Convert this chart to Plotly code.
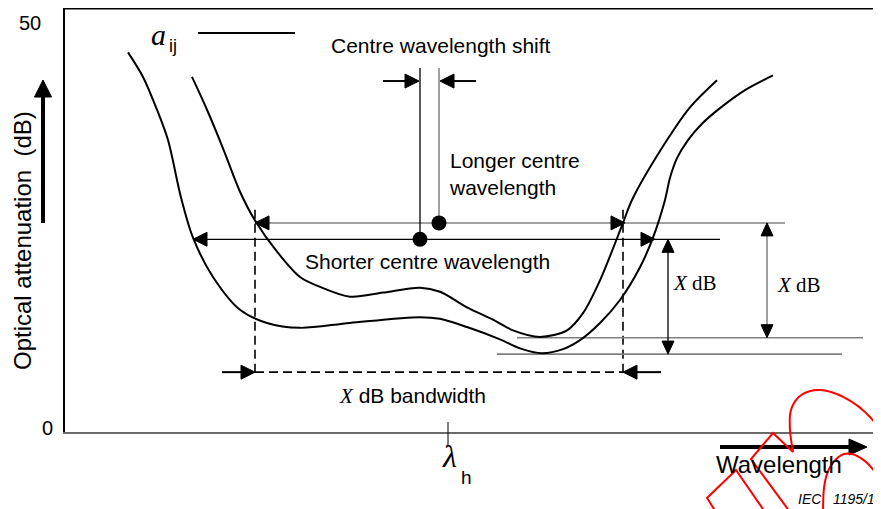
import plotly.graph_objects as go

# ---------------- data (wavelength in arbitrary units, attenuation in dB) ----------------
wl_a = [63, 78, 92, 103, 116, 128, 148, 175, 202, 235, 285, 355, 375, 402, 435, 455, 477,
        498, 515, 535, 555, 575, 588, 600, 605, 612, 623, 637, 655, 680, 708]
att_a = [46.3, 43.3, 39.3, 35.6, 28.6, 23.7, 18.9, 14.9, 13.3, 12.7, 13.3, 14.0, 13.8, 12.8,
         11.3, 10.2, 9.6, 10.1, 11.2, 13.3, 16.1, 20.1, 23.7, 28.3, 31.0, 33.4, 35.6, 37.6,
         39.5, 41.7, 43.5]

wl_b = [127, 142, 158, 175, 190, 212, 235, 255, 285, 318, 355, 375, 402, 428, 448, 475,
        502, 518, 535, 558, 567, 602, 625, 652]
att_b = [43.3, 39.3, 34.6, 29.3, 25.8, 22.0, 18.9, 17.7, 16.5, 17.0, 17.6, 17.1, 15.2, 13.7,
         12.4, 11.6, 12.4, 14.5, 18.5, 25.5, 28.3, 35.6, 39.6, 42.9]

centre_wl = [355, 374]          # shorter / longer centre wavelength
centre_att = [23.5, 25.5]       # attenuation levels at the centre markers
min_att = [9.5, 11.5]           # minimum attenuation of each curve
bw_edges = [190, 558]           # X dB bandwidth edges
bw_level = 7.3
lambda_h = 383
y_tick_vals = [0, 50]
y_tick_text = ["0", "50"]

# ---------------- geometry helpers (page pixel -> paper) ----------------
X_MAX = 816
Y_MAX = 424 / 8.2
YS = Y_MAX / 424      # dB per pixel


def px_x(px):
    return (px - 65) / 816


def px_y(py):
    return (432 - py) / 424


def head(x, y, d, L=14, H=7):
    if d == "r":
        pts = [(x, y), (x - L, y + H * YS), (x - L, y - H * YS)]
    elif d == "l":
        pts = [(x, y), (x + L, y + H * YS), (x + L, y - H * YS)]
    elif d == "u":
        pts = [(x, y), (x - H, y - L * YS), (x + H, y - L * YS)]
    else:
        pts = [(x, y), (x - H, y + L * YS), (x + H, y + L * YS)]
    p = "M{},{} L{},{} L{},{} Z".format(*[v for pt in pts for v in pt])
    return dict(type="path", xref="x", yref="y", path=p, layer="below",
                fillcolor="black", line=dict(color="black", width=1))


def dline(x0, y0, x1, y1, color="black", width=1.4, dash=None):
    ln = dict(color=color, width=width)
    if dash:
        ln["dash"] = dash
    return dict(type="line", xref="x", yref="y", x0=x0, y0=y0, x1=x1, y1=y1, line=ln,
                layer="below")


def pline(p0, p1, color="black", width=1.5):
    return dict(type="line", xref="paper", yref="paper",
                x0=px_x(p0[0]), y0=px_y(p0[1]), x1=px_x(p1[0]), y1=px_y(p1[1]),
                line=dict(color=color, width=width))


def smooth(points, n=8):
    # Catmull-Rom interpolation for a smooth decorative stroke
    pts = [points[0]] + list(points) + [points[-1]]
    out = []
    for i in range(1, len(pts) - 2):
        p0, p1, p2, p3 = pts[i - 1], pts[i], pts[i + 1], pts[i + 2]
        for k in range(n):
            t = k / n
            t2, t3 = t * t, t * t * t
            out.append(tuple(0.5 * ((2 * p1[j]) + (-p0[j] + p2[j]) * t +
                                    (2 * p0[j] - 5 * p1[j] + 4 * p2[j] - p3[j]) * t2 +
                                    (-p0[j] + 3 * p1[j] - 3 * p2[j] + p3[j]) * t3)
                             for j in range(2)))
    out.append(points[-1])
    return out


def ppath(points, color="red", width=2, fill=None, closed=False):
    s = "M" + " L".join("{:.5f},{:.5f}".format(px_x(a), px_y(b)) for a, b in points)
    if closed:
        s += " Z"
    d = dict(type="path", xref="paper", yref="paper", path=s,
             line=dict(color=color, width=width))
    if fill:
        d["fillcolor"] = fill
    return d


GRAY = "#808080"
short_x, long_x = centre_wl
short_y, long_y = centre_att
minA, minB = min_att
top_v = 44.4
shift_y = 42.8

fig = go.Figure()
fig.add_trace(go.Scatter(x=wl_a, y=att_a, mode="lines",
                         line=dict(color="black", width=2, shape="spline", smoothing=0.9),
                         hoverinfo="skip", showlegend=False))
fig.add_trace(go.Scatter(x=wl_b, y=att_b, mode="lines",
                         line=dict(color="black", width=2, shape="spline", smoothing=0.9),
                         hoverinfo="skip", showlegend=False))

shapes = []
# top frame line
shapes.append(dict(type="line", xref="paper", yref="paper", x0=0, x1=1, y0=0.998, y1=0.998,
                   line=dict(color="black", width=1.5)))
# level lines
shapes.append(dline(bw_edges[0], long_y, 720, long_y, color=GRAY, width=1.5))
shapes.append(head(bw_edges[0], long_y, "l"))
shapes.append(head(bw_edges[1] + 2, long_y, "r"))
shapes.append(dline(128, short_y, 655, short_y, color="black", width=1.3))
shapes.append(head(128, short_y, "l"))
shapes.append(head(590, short_y, "r"))
# centre verticals
shapes.append(dline(short_x, short_y, short_x, top_v, color="black", width=1.3))
shapes.append(dline(long_x, long_y, long_x, top_v, color=GRAY, width=1.5))
# centre wavelength shift arrows
shapes.append(dline(318, shift_y, short_x - 10, shift_y, width=2))
shapes.append(head(short_x - 1, shift_y, "r"))
shapes.append(dline(411, shift_y, long_x + 10, shift_y, width=2))
shapes.append(head(long_x + 1, shift_y, "l"))
# bandwidth dashed lines
for bx in bw_edges:
    shapes.append(dline(bx, 27.1, bx, bw_level, width=1.6, dash="9px,5px"))
shapes.append(dline(bw_edges[0], bw_level, bw_edges[1], bw_level, width=1.6, dash="9px,5px"))
shapes.append(dline(157, bw_level, bw_edges[0] - 10, bw_level, width=2))
shapes.append(head(bw_edges[0], bw_level, "r"))
shapes.append(dline(596, bw_level, bw_edges[1] + 10, bw_level, width=2))
shapes.append(head(bw_edges[1], bw_level, "l"))
# minimum level lines
shapes.append(dline(452, minB, 798, minB, color=GRAY, width=1.6))
shapes.append(dline(432, minA, 777, minA, color=GRAY, width=1.6))
# X dB vertical double arrows
shapes.append(dline(603, short_y - 1, 603, minA + 1, color="black", width=1.3))
shapes.append(head(603, short_y, "u", L=13, H=6))
shapes.append(head(603, minA, "d", L=13, H=6))
shapes.append(dline(702, long_y - 1, 702, minB + 1, color=GRAY, width=1.5))
shapes.append(head(702, long_y, "u", L=13, H=6))
shapes.append(head(702, minB, "d", L=13, H=6))
# legend line a_ij
shapes.append(dline(133, (432 - 33) / 8.2, 230, (432 - 33) / 8.2, width=2.2))
# lambda_h tick
shapes.append(dict(type="line", xref="x", yref="paper", x0=lambda_h, x1=lambda_h,
                   y0=px_y(445), y1=px_y(422), line=dict(color="black", width=1)))
# y-axis arrow
shapes.append(pline((43, 223), (43, 95), width=4))
shapes.append(ppath([(43, 80), (34.5, 97), (51.5, 97)], color="black", width=1,
                    fill="black", closed=True))
# wavelength arrow
shapes.append(pline((720, 447), (851, 447), width=4))
shapes.append(ppath([(867, 447), (849, 439), (849, 455)], color="black", width=1,
                    fill="black", closed=True))
# red stamp overlay
shapes.append(ppath([(716, 512), (707, 498), (736, 470), (765, 512)]))
shapes.append(ppath([(790, 512), (751, 459), (773, 433), (793, 452)]))
shapes.append(ppath(smooth([(793, 452), (790, 430), (791, 410), (800, 396), (816, 390),
                            (834, 393), (852, 402), (868, 415), (888, 438)])))
shapes.append(ppath(smooth([(823, 512), (824, 488), (829, 469), (840, 456), (852, 454),
                            (866, 462), (878, 476), (890, 494)])))

SANS = "Liberation Sans, Arial, sans-serif"
SERIF = "Liberation Serif, Times New Roman, serif"
ann = []


def txt(text, xp, yp, size=21, family=SANS, xanchor="center", yanchor="middle",
        color="black", align="left", angle=0):
    ann.append(dict(text=text, x=px_x(xp), y=px_y(yp), xref="paper", yref="paper",
                    showarrow=False, xanchor=xanchor, yanchor=yanchor, align=align,
                    textangle=angle, font=dict(size=size, family=family, color=color)))


# tick labels
txt(y_tick_text[1], 30, 432 - y_tick_vals[1] * 8.2 + 1, size=20)
txt(y_tick_text[0], 47, 428, size=20)
# axis titles
txt("Optical attenuation  (dB)", 22, 241, size=24, angle=-90)
txt("Wavelength", 779, 465, size=24)
# annotations
txt("Centre wavelength shift", 441, 45)
txt("Longer centre<br>wavelength", 447, 174, xanchor="left")
txt("Shorter centre wavelength", 303, 261, xanchor="left")
txt("<span style='font-family:Liberation Serif'><i>X</i></span> dB bandwidth", 412, 396)
txt("<i>X</i> dB", 695, 283, family=SERIF)
txt("<i>X</i> dB", 799, 285, family=SERIF)
txt("<i>a</i>", 158, 34, size=30, family=SERIF)
txt("ij", 173, 46, size=18)
txt("<i>λ</i>", 449, 456, size=32, family=SERIF)
txt("h", 466, 478, size=19)
txt("<i>IEC   1195/1</i>", 796, 499, size=14, xanchor="left")

# centre markers
fig.add_trace(go.Scatter(x=centre_wl, y=centre_att, mode="markers",
                         marker=dict(color="black", size=15),
                         hoverinfo="skip", showlegend=False))

# The page adds an 8 px body margin, so the figure is offset by 8 px on each side.
fig.update_layout(
    width=873, height=501,
    margin=dict(l=57, r=0, t=0, b=77),
    paper_bgcolor="white", plot_bgcolor="white",
    shapes=shapes, annotations=ann, showlegend=False,
    xaxis=dict(range=[0, X_MAX], showgrid=False, zeroline=False, showticklabels=False,
               ticks="", showline=True, linecolor="#6a6a6a", linewidth=1.5, fixedrange=True),
    yaxis=dict(range=[0, Y_MAX], showgrid=False, zeroline=False, showticklabels=False,
               ticks="", showline=True, linecolor="black", linewidth=1.5, fixedrange=True),
)

fig.write_html("out.html")
